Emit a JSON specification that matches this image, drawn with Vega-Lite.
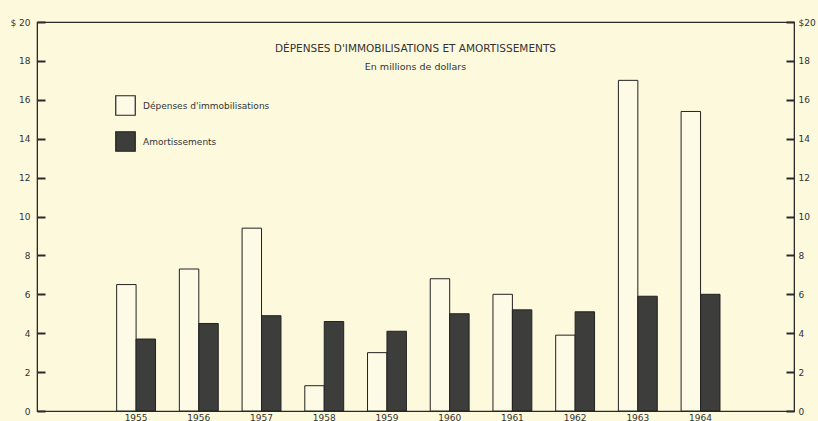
{
  "$schema": "https://vega.github.io/schema/vega-lite/v6.json",
  "width": 757,
  "height": 389,
  "autosize": {"type": "none"},
  "padding": {"left": 37, "top": 22, "right": 24, "bottom": 10},
  "background": "#fcf9dd",
  "config": {
    "font": "DejaVu Sans",
    "view": {"stroke": "#2a2a2a", "strokeWidth": 1.2},
    "axis": {"labelFont": "DejaVu Sans", "labelColor": "#333", "labelFontSize": 9, "domainColor": "#2a2a2a", "tickColor": "#2a2a2a", "grid": false, "title": null}
  },
  "title": {
    "text": "DÉPENSES D'IMMOBILISATIONS ET AMORTISSEMENTS",
    "subtitle": "En millions de dollars",
    "anchor": "middle",
    "offset": -53,
    "fontSize": 10.5,
    "fontWeight": "normal",
    "color": "#333",
    "subtitleFontSize": 9.5,
    "subtitleColor": "#333",
    "subtitlePadding": 7
  },
  "data": {
    "values": [
      {"annee": "1955", "serie": "Dépenses d'immobilisations", "valeur": 6.5},
      {"annee": "1955", "serie": "Amortissements", "valeur": 3.7},
      {"annee": "1956", "serie": "Dépenses d'immobilisations", "valeur": 7.3},
      {"annee": "1956", "serie": "Amortissements", "valeur": 4.5},
      {"annee": "1957", "serie": "Dépenses d'immobilisations", "valeur": 9.4},
      {"annee": "1957", "serie": "Amortissements", "valeur": 4.9},
      {"annee": "1958", "serie": "Dépenses d'immobilisations", "valeur": 1.3},
      {"annee": "1958", "serie": "Amortissements", "valeur": 4.6},
      {"annee": "1959", "serie": "Dépenses d'immobilisations", "valeur": 3.0},
      {"annee": "1959", "serie": "Amortissements", "valeur": 4.1},
      {"annee": "1960", "serie": "Dépenses d'immobilisations", "valeur": 6.8},
      {"annee": "1960", "serie": "Amortissements", "valeur": 5.0},
      {"annee": "1961", "serie": "Dépenses d'immobilisations", "valeur": 6.0},
      {"annee": "1961", "serie": "Amortissements", "valeur": 5.2},
      {"annee": "1962", "serie": "Dépenses d'immobilisations", "valeur": 3.9},
      {"annee": "1962", "serie": "Amortissements", "valeur": 5.1},
      {"annee": "1963", "serie": "Dépenses d'immobilisations", "valeur": 17.0},
      {"annee": "1963", "serie": "Amortissements", "valeur": 5.9},
      {"annee": "1964", "serie": "Dépenses d'immobilisations", "valeur": 15.4},
      {"annee": "1964", "serie": "Amortissements", "valeur": 6.0}
    ]
  },
  "encoding": {
    "x": {
      "field": "annee",
      "type": "ordinal",
      "scale": {"domain": ["1954", "1955", "1956", "1957", "1958", "1959", "1960", "1961", "1962", "1963", "1964", "1965"], "paddingInner": 0.38, "paddingOuter": 0.225, "align": 0.6},
      "axis": {"labelAngle": 0, "ticks": false, "labelPadding": 2, "labelExpr": "datum.value == '1954' || datum.value == '1965' ? '' : datum.label"}
    },
    "xOffset": {
      "field": "serie",
      "type": "nominal",
      "sort": ["Dépenses d'immobilisations", "Amortissements"],
      "scale": {"paddingInner": 0}
    },
    "fill": {
      "field": "serie",
      "type": "nominal",
      "sort": ["Dépenses d'immobilisations", "Amortissements"],
      "scale": {"domain": ["Dépenses d'immobilisations", "Amortissements"], "range": ["#fdfbe6", "#3d3d3b"]},
      "legend": {
        "title": null,
        "orient": "none",
        "legendX": 78,
        "legendY": 73,
        "symbolType": "square",
        "symbolSize": 380,
        "symbolStrokeColor": "#222",
        "symbolStrokeWidth": 1.2,
        "rowPadding": 11,
        "labelFontSize": 9,
        "labelColor": "#333",
        "labelOffset": 7,
        "padding": 0
      }
    }
  },
  "layer": [
    {
      "mark": {"type": "bar", "stroke": "#222", "strokeWidth": 1},
      "encoding": {
        "y": {
          "field": "valeur",
          "type": "quantitative",
          "scale": {"domain": [0, 20]},
          "axis": {"orient": "left", "values": [0, 2, 4, 6, 8, 10, 12, 14, 16, 18, 20], "tickSize": -8, "tickWidth": 2, "labelPadding": 15, "labelExpr": "datum.value == 20 ? '$ 20' : datum.label"}
        }
      }
    },
    {
      "mark": {"type": "bar", "opacity": 0},
      "encoding": {
        "y": {
          "field": "valeur",
          "type": "quantitative",
          "scale": {"domain": [0, 20]},
          "axis": {"orient": "right", "values": [0, 2, 4, 6, 8, 10, 12, 14, 16, 18, 20], "tickSize": -8, "tickWidth": 2, "labelPadding": 12, "labelExpr": "datum.value == 20 ? '$20' : datum.label"}
        }
      }
    }
  ],
  "resolve": {"axis": {"y": "independent"}}
}
